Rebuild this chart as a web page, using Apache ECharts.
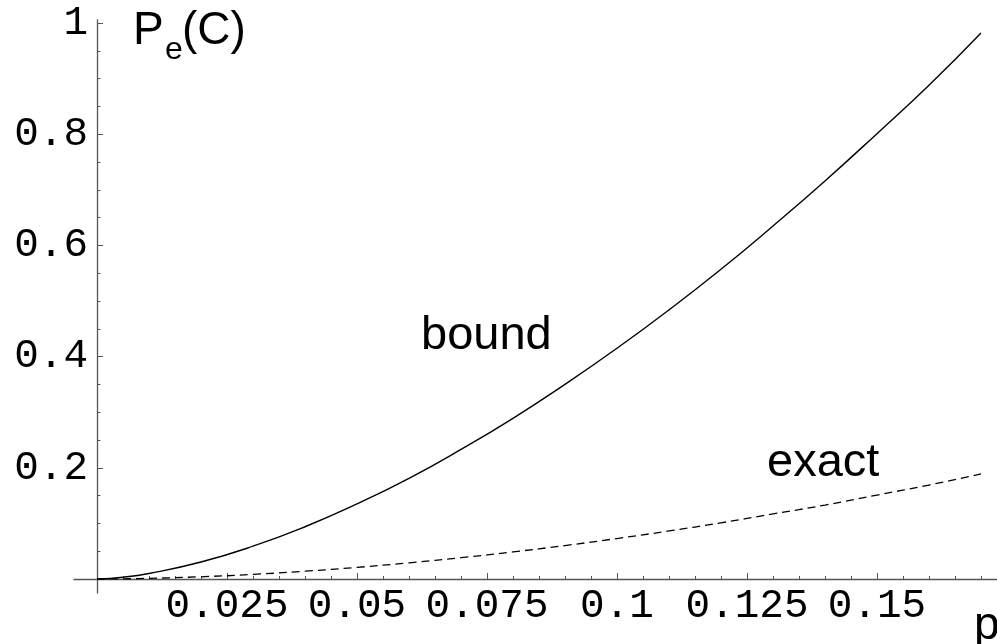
<!DOCTYPE html>
<html>
<head>
<meta charset="utf-8">
<script src="https://cdn.jsdelivr.net/npm/echarts@6/dist/echarts.min.js"></script>
<style>
  html, body { margin: 0; padding: 0; background: #fff; }
  #chart { width: 997px; height: 644px; }
</style>
</head>
<body>
<div id="chart"></div>
<script>
// p values (x axis)
const pValues = [0, 0.005, 0.01, 0.02, 0.03, 0.04, 0.05, 0.06, 0.07, 0.08, 0.09,
  0.10, 0.11, 0.12, 0.13, 0.14, 0.15, 0.16, 0.17]
// upper bound on P_e(C)
const boundValues = [0, 0.0032, 0.010, 0.0306, 0.059, 0.094, 0.135, 0.181, 0.233, 0.289, 0.350,
  0.415, 0.484, 0.557, 0.635, 0.716, 0.801, 0.888, 0.982]
// exact P_e(C)
const exactValues = [0, 0.0003, 0.0012, 0.0040, 0.0083, 0.0140, 0.0209, 0.0291, 0.0383, 0.0487, 0.0602,
  0.0728, 0.0864, 0.101, 0.117, 0.133, 0.151, 0.169, 0.189]

// tick marks and labels
const xMajorTicks = [0.025, 0.05, 0.075, 0.1, 0.125, 0.15]
const xMinorTicks = [0.005, 0.01, 0.015, 0.02, 0.03, 0.035, 0.04, 0.045, 0.055, 0.06, 0.065, 0.07,
  0.08, 0.085, 0.09, 0.095, 0.105, 0.11, 0.115, 0.12, 0.13, 0.135, 0.14, 0.145, 0.155, 0.16, 0.165, 0.17]
const yMajorTicks = [0.2, 0.4, 0.6, 0.8, 1]
const yMinorTicks = [0.05, 0.1, 0.15, 0.25, 0.3, 0.35, 0.45, 0.5, 0.55, 0.65, 0.7, 0.75, 0.85, 0.9, 0.95]

const axisColor = '#555'
const monoFont = 'Liberation Mono'
const sansFont = 'Liberation Sans'

const chart = echarts.init(document.getElementById('chart'))

const option = {
  animation: false,
  grid: { left: 74, right: 0, top: 20, bottom: 51, outerBoundsMode: 'none', containLabel: false },
  xAxis: [
    {
      type: 'value',
      min: -0.004423,
      max: 0.17308,
      splitLine: { show: false },
      axisLine: { onZero: true, onZeroAxisIndex: 0, lineStyle: { color: axisColor, width: 1.3 } },
      axisTick: { inside: true, length: 6, customValues: xMajorTicks, lineStyle: { color: axisColor } },
      axisLabel: {
        customValues: xMajorTicks,
        margin: -7,
        color: '#000',
        fontFamily: monoFont,
        fontSize: 41,
        formatter: (v) => String(v)
      }
    },
    {
      type: 'value',
      min: -0.004423,
      max: 0.17308,
      position: 'bottom',
      splitLine: { show: false },
      axisLine: { show: false, onZero: true, onZeroAxisIndex: 0 },
      axisTick: { inside: true, length: 3, customValues: xMinorTicks, lineStyle: { color: axisColor } },
      axisLabel: { show: false }
    }
  ],
  yAxis: [
    {
      type: 'value',
      min: -0.02518,
      max: 1.0054,
      splitLine: { show: false },
      axisLine: { onZero: true, onZeroAxisIndex: 0, lineStyle: { color: axisColor, width: 1.3 } },
      axisTick: { inside: true, length: 6, customValues: yMajorTicks, lineStyle: { color: axisColor } },
      axisLabel: {
        customValues: yMajorTicks,
        margin: -14,
        color: '#000',
        fontFamily: monoFont,
        fontSize: 41,
        formatter: (v) => String(v)
      }
    },
    {
      type: 'value',
      min: -0.02518,
      max: 1.0054,
      position: 'left',
      splitLine: { show: false },
      axisLine: { show: false, onZero: true, onZeroAxisIndex: 0 },
      axisTick: { inside: true, length: 3.5, customValues: yMinorTicks, lineStyle: { color: axisColor } },
      axisLabel: { show: false }
    }
  ],
  series: [
    {
      name: 'bound',
      type: 'line',
      smooth: true,
      showSymbol: false,
      lineStyle: { color: '#000', width: 1.4 },
      data: pValues.map((p, i) => [p, boundValues[i]])
    },
    {
      name: 'exact',
      type: 'line',
      smooth: true,
      showSymbol: false,
      lineStyle: { color: '#000', width: 1.3, type: [8, 5] },
      data: pValues.map((p, i) => [p, exactValues[i]])
    }
  ],
  // axis title and curve annotations
  graphic: [
    { type: 'text', left: 133, top: 8, style: { text: 'P', font: '46px ' + sansFont, fill: '#000' } },
    { type: 'text', left: 165, top: 34, style: { text: 'e', font: '32px ' + sansFont, fill: '#000' } },
    { type: 'text', left: 182, top: 8, style: { text: '(C)', font: '46px ' + sansFont, fill: '#000' } },
    { type: 'text', left: 421, top: 313, style: { text: 'bound', font: '47px ' + sansFont, fill: '#000' } },
    { type: 'text', left: 767, top: 440, style: { text: 'exact', font: '47px ' + sansFont, fill: '#000' } },
    { type: 'text', left: 974, top: 603, style: { text: 'p', font: '46px ' + sansFont, fill: '#000' } }
  ]
}

chart.setOption(option)
</script>
</body>
</html>
